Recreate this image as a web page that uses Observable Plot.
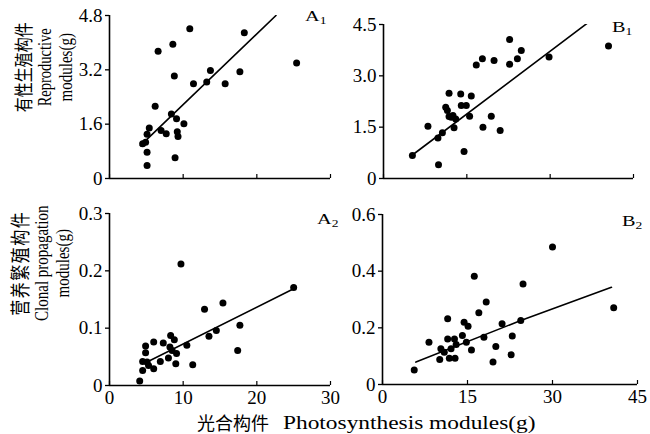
<!DOCTYPE html>
<html><head><meta charset="utf-8">
<script src="https://cdn.jsdelivr.net/npm/d3@7"></script>
<script src="https://cdn.jsdelivr.net/npm/@observablehq/plot@0.6"></script>
<style>
html,body{margin:0;padding:0;background:#fff;}
#chart{position:relative;width:650px;height:434px;overflow:hidden;font-family:"Liberation Serif","Times New Roman",serif;color:#000;}
#chart svg{position:absolute;}
.t{position:absolute;white-space:nowrap;color:#000;}
.cjk{font-family:"Noto Sans CJK SC",sans-serif;}
.ylab{position:absolute;text-align:center;white-space:nowrap;transform:scaleX(1.25) rotate(-90deg);transform-origin:50% 50%;}
.ylab div{height:17.5px;line-height:17.5px;}
.plab{position:absolute;font-size:15px;line-height:15px;transform:scaleX(1.35);transform-origin:0 0;}
.plab sub{font-size:10px;vertical-align:baseline;position:relative;top:3px;}
</style></head><body><div id="chart"></div>
<script>
// ---- data ----
const a1X = [10.9, 18.3, 8.6, 6.6, 25.4, 13.7, 17.7, 8.8, 11.4, 13.2, 15.7, 6.2, 8.4, 9.1, 10.1, 5.4, 7.0, 7.7, 5.1, 9.2, 9.3, 4.5, 4.9, 5.1, 8.9, 5.1];
const a1Y = [4.41, 4.29, 3.95, 3.75, 3.40, 3.18, 3.14, 3.02, 2.79, 2.84, 2.79, 2.13, 1.90, 1.76, 1.61, 1.49, 1.41, 1.32, 1.30, 1.38, 1.24, 1.02, 1.07, 0.77, 0.61, 0.38];
const a1FitX = [4.2, 22.6];
const a1FitY = [0.97, 4.8];

const b1X = [22.7, 24.8, 24.1, 29.8, 40.5, 17.8, 19.9, 16.7, 22.7, 11.8, 13.9, 15.8, 11.2, 14.0, 14.9, 11.5, 11.8, 12.5, 13.0, 15.5, 19.4, 12.7, 8.0, 17.9, 21.0, 10.6, 9.8, 14.5, 5.2, 9.9, 12.2];
const b1Y = [4.06, 3.74, 3.50, 3.55, 3.87, 3.50, 3.45, 3.32, 3.34, 2.49, 2.47, 2.41, 2.08, 2.13, 2.13, 1.99, 1.81, 1.84, 1.74, 1.82, 1.82, 1.48, 1.53, 1.50, 1.40, 1.34, 1.18, 0.79, 0.67, 0.40, 1.79];
const b1FitX = [4.9, 36.7];
const b1FitY = [0.65, 4.54];

const a2X = [9.7, 25.0, 15.4, 12.9, 17.7, 14.5, 13.5, 17.4, 8.3, 8.8, 6.0, 7.3, 4.9, 8.2, 10.5, 4.9, 8.5, 9.1, 8.0, 6.9, 4.5, 5.1, 5.3, 9.0, 11.3, 6.0, 4.5, 4.1];
const a2Y = [0.212, 0.171, 0.144, 0.133, 0.105, 0.096, 0.086, 0.061, 0.087, 0.080, 0.076, 0.074, 0.069, 0.067, 0.070, 0.057, 0.061, 0.056, 0.048, 0.042, 0.042, 0.041, 0.035, 0.038, 0.036, 0.029, 0.026, 0.008];
const a2FitX = [5.1, 25.2];
const a2FitY = [0.041, 0.170];

const b2X = [30.0, 16.2, 24.8, 40.8, 18.3, 17.0, 11.5, 14.4, 15.1, 21.1, 24.4, 14.1, 17.9, 22.9, 11.5, 12.7, 8.2, 14.8, 13.0, 10.3, 12.1, 10.9, 15.7, 20.0, 10.1, 11.8, 12.8, 19.5, 22.7, 5.6];
const b2Y = [0.485, 0.382, 0.355, 0.271, 0.291, 0.253, 0.232, 0.220, 0.206, 0.214, 0.226, 0.173, 0.167, 0.171, 0.161, 0.161, 0.149, 0.149, 0.141, 0.126, 0.126, 0.114, 0.122, 0.134, 0.088, 0.093, 0.093, 0.079, 0.105, 0.051];
const b2FitX = [5.9, 24.4, 40.4];
const b2FitY = [0.079, 0.226, 0.343];

// ticks
const aXTicks = [0, 10, 20, 30];
const aXTickLabels = ["0", "10", "20", "30"];
const bXTicks = [0, 15, 30, 45];
const bXTickLabels = ["0", "15", "30", "45"];
const a1YTicks = [0, 1.6, 3.2, 4.8];
const a1YTickLabels = ["0", "1.6", "3.2", "4.8"];
const b1YTicks = [0, 1.5, 3.0, 4.5];
const b1YTickLabels = ["0", "1.5", "3.0", "4.5"];
const a2YTicks = [0, 0.1, 0.2, 0.3];
const a2YTickLabels = ["0", "0.1", "0.2", "0.3"];
const b2YTicks = [0, 0.2, 0.4, 0.6];
const b2YTickLabels = ["0", "0.2", "0.4", "0.6"];

const chart = document.getElementById("chart");

function panel(c) {
  const pts = c.xs.map((x, i) => ({x, y: c.ys[i]}));
  const fit = c.fitX.map((x, i) => ({x, y: c.fitY[i]}));
  const frameH = c.height - c.mt - c.mb;
  const marks = [
    Plot.ruleX([c.xDomain[0]], {stroke: "#000", strokeWidth: 1.6}),
    Plot.ruleY([c.yDomain[0]], {stroke: "#000", strokeWidth: 1.6}),
    Plot.ruleX(c.xTicks, {x: d => d, insetTop: frameH - 4, stroke: "#000", strokeWidth: 1.2}),
    Plot.axisY({ticks: c.yTicks, tickSize: 4, tickPadding: 3, strokeWidth: 1.3,
      tickFormat: d => c.yTickLabels[c.yTicks.indexOf(d)], fontSize: 19, label: null}),
    Plot.line(fit, {x: "x", y: "y", stroke: "#000", strokeWidth: 1.6, clip: true, curve: "linear"}),
    Plot.dot(pts, {x: "x", y: "y", r: 3.5, fill: "#000"})
  ];
  if (c.showX) marks.push(Plot.axisX({ticks: c.xTicks, tickSize: 0, tickPadding: 5,
      tickFormat: d => c.xTickLabels[c.xTicks.indexOf(d)], fontSize: 19, label: null}));
  const xOpt = {domain: c.xDomain};
  if (!c.showX) xOpt.axis = null;
  const svg = Plot.plot({
    width: c.width, height: c.height,
    marginLeft: c.ml, marginRight: c.mr, marginTop: c.mt, marginBottom: c.mb,
    x: xOpt, y: {domain: c.yDomain},
    style: {background: "transparent", overflow: "visible", fontFamily: "'Liberation Serif', 'Times New Roman', serif", fontSize: "19px", color: "#000"},
    marks
  });
  svg.style.left = c.left + "px";
  svg.style.top = c.top + "px";
  chart.appendChild(svg);
}

panel({left: 0, top: 0, width: 345, height: 200, ml: 109, mr: 15, mt: 15, mb: 22,
  xDomain: [0, 30], yDomain: [0, 4.8], xTicks: aXTicks, xTickLabels: aXTickLabels,
  yTicks: a1YTicks, yTickLabels: a1YTickLabels, xs: a1X, ys: a1Y, fitX: a1FitX, fitY: a1FitY, showX: false});
panel({left: 345, top: 0, width: 305, height: 200, ml: 38, mr: 17, mt: 24, mb: 22,
  xDomain: [0, 45], yDomain: [0, 4.5], xTicks: bXTicks, xTickLabels: bXTickLabels,
  yTicks: b1YTicks, yTickLabels: b1YTickLabels, xs: b1X, ys: b1Y, fitX: b1FitX, fitY: b1FitY, showX: false});
panel({left: 0, top: 200, width: 345, height: 234, ml: 109, mr: 15, mt: 13, mb: 49,
  xDomain: [0, 30], yDomain: [0, 0.3], xTicks: aXTicks, xTickLabels: aXTickLabels,
  yTicks: a2YTicks, yTickLabels: a2YTickLabels, xs: a2X, ys: a2Y, fitX: a2FitX, fitY: a2FitY, showX: true});
panel({left: 345, top: 200, width: 305, height: 234, ml: 37, mr: 13, mt: 14, mb: 50,
  xDomain: [0, 45], yDomain: [0, 0.6], xTicks: bXTicks, xTickLabels: bXTickLabels,
  yTicks: b2YTicks, yTickLabels: b2YTickLabels, xs: b2X, ys: b2Y, fitX: b2FitX, fitY: b2FitY, showX: true});

// text overlays
function add(html, cls, style) {
  const d = document.createElement("div");
  d.className = cls; d.innerHTML = html;
  Object.assign(d.style, style);
  chart.appendChild(d);
  return d;
}
// y-axis titles (rotated)
add('<div class="cjk" style="font-size:15px">有性生殖构件</div><div style="font-size:14.5px">Reproductive</div><div style="font-size:15px">modules(g)</div>',
  "ylab", {left: (45 - 70) + "px", top: (67 - 26.25) + "px", width: "140px", height: "52.5px"});
add('<div class="cjk" style="font-size:16px;letter-spacing:1.5px">营养繁殖构件</div><div style="font-size:15px">Clonal propagation</div><div style="font-size:15px">modules(g)</div>',
  "ylab", {left: (42 - 70) + "px", top: (263 - 26.25) + "px", width: "140px", height: "52.5px"});
// x-axis title
add("光合构件", "t cjk", {left: "197px", top: "413px", fontSize: "18px", lineHeight: "18px"});
add("Photosynthesis modules(g)", "t", {left: "283px", top: "413px", fontSize: "19px", lineHeight: "19px", transform: "scaleX(1.23)", transformOrigin: "0 0"});
// panel labels
add("A<sub>1</sub>", "plab", {left: "305px", top: "9px"});
add("B<sub>1</sub>", "plab", {left: "612px", top: "20px"});
add("A<sub>2</sub>", "plab", {left: "317px", top: "212px"});
add("B<sub>2</sub>", "plab", {left: "622px", top: "214px"});
</script></body></html>
